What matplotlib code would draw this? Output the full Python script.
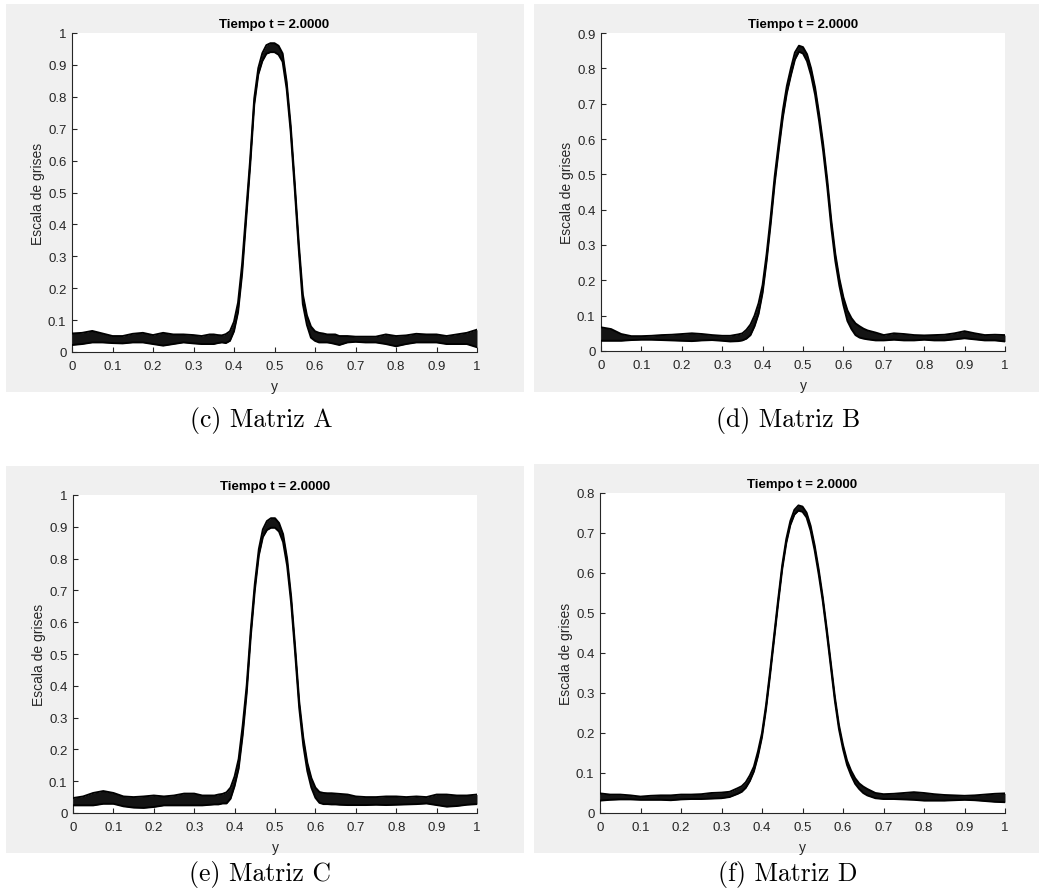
import matplotlib
matplotlib.use("Agg")
import matplotlib.pyplot as plt
from matplotlib.patches import Rectangle
import numpy as np

# ---------------- data ----------------
x = [0, 0.025, 0.05, 0.075, 0.1, 0.125, 0.15, 0.175, 0.2, 0.225, 0.25, 0.275, 0.3,
     0.32, 0.34, 0.35, 0.36, 0.37,
     0.38, 0.39, 0.40, 0.41, 0.42, 0.43, 0.44, 0.45, 0.46, 0.47, 0.48, 0.49, 0.50,
     0.51, 0.52, 0.53, 0.54, 0.55, 0.56, 0.57, 0.58, 0.59, 0.60, 0.61, 0.62,
     0.63, 0.64, 0.65, 0.66, 0.68, 0.70, 0.725, 0.75, 0.775, 0.8, 0.825, 0.85,
     0.875, 0.9, 0.925, 0.95, 0.975, 1.0]

# Matriz A
a_lo = [0.022, 0.025, 0.030, 0.030, 0.028, 0.027, 0.030, 0.030, 0.025, 0.020, 0.025, 0.030, 0.027,
        0.025, 0.025, 0.025, 0.028, 0.030,
        0.028, 0.035, 0.065, 0.125, 0.245, 0.415, 0.585, 0.775, 0.870, 0.912, 0.935, 0.940, 0.940,
        0.932, 0.910, 0.825, 0.690, 0.510, 0.320, 0.150, 0.085, 0.045, 0.035, 0.030, 0.030,
        0.030, 0.028, 0.025, 0.022, 0.030, 0.032, 0.030, 0.030, 0.025, 0.018, 0.025, 0.030,
        0.030, 0.030, 0.025, 0.025, 0.025, 0.015]
a_hi = [0.058, 0.060, 0.066, 0.058, 0.050, 0.050, 0.057, 0.060, 0.053, 0.060, 0.055, 0.055, 0.053,
        0.050, 0.055, 0.055, 0.053, 0.052,
        0.056, 0.065, 0.095, 0.155, 0.275, 0.440, 0.605, 0.795, 0.890, 0.937, 0.962, 0.968, 0.968,
        0.960, 0.936, 0.847, 0.710, 0.530, 0.340, 0.180, 0.115, 0.080, 0.065, 0.060, 0.058,
        0.055, 0.055, 0.055, 0.050, 0.050, 0.048, 0.048, 0.048, 0.055, 0.050, 0.052, 0.057,
        0.055, 0.055, 0.050, 0.055, 0.060, 0.070]

# Matriz B
b_lo = [0.029, 0.029, 0.029, 0.031, 0.032, 0.032, 0.031, 0.030, 0.029, 0.028, 0.030, 0.031, 0.029,
        0.027, 0.028, 0.030, 0.035, 0.045,
        0.070, 0.105, 0.165, 0.255, 0.360, 0.475, 0.570, 0.660, 0.730, 0.780, 0.825, 0.847, 0.842,
        0.820, 0.780, 0.725, 0.650, 0.565, 0.465, 0.350, 0.255, 0.185, 0.130, 0.085, 0.062,
        0.045, 0.038, 0.035, 0.033, 0.030, 0.030, 0.032, 0.030, 0.030, 0.032, 0.030, 0.030,
        0.033, 0.036, 0.033, 0.030, 0.030, 0.027]
b_hi = [0.067, 0.062, 0.048, 0.042, 0.042, 0.043, 0.045, 0.046, 0.048, 0.050, 0.048, 0.045, 0.043,
        0.043, 0.047, 0.050, 0.060, 0.075,
        0.100, 0.135, 0.187, 0.275, 0.380, 0.495, 0.590, 0.680, 0.750, 0.800, 0.845, 0.864, 0.860,
        0.840, 0.800, 0.745, 0.670, 0.585, 0.485, 0.370, 0.275, 0.205, 0.152, 0.115, 0.093,
        0.078, 0.070, 0.063, 0.058, 0.052, 0.045, 0.050, 0.048, 0.045, 0.044, 0.045, 0.046,
        0.050, 0.056, 0.050, 0.045, 0.046, 0.045]

# Matriz C
c_lo = [0.024, 0.024, 0.024, 0.029, 0.029, 0.021, 0.017, 0.016, 0.019, 0.024, 0.024, 0.024, 0.024,
        0.024, 0.026, 0.027, 0.027, 0.030,
        0.030, 0.045, 0.085, 0.140, 0.245, 0.378, 0.555, 0.700, 0.810, 0.868, 0.890, 0.897, 0.897,
        0.885, 0.852, 0.778, 0.660, 0.500, 0.330, 0.213, 0.132, 0.080, 0.048, 0.032, 0.028,
        0.028, 0.027, 0.027, 0.026, 0.025, 0.025, 0.025, 0.026, 0.025, 0.026, 0.027, 0.028,
        0.030, 0.025, 0.020, 0.022, 0.026, 0.028]
c_hi = [0.047, 0.052, 0.063, 0.069, 0.063, 0.052, 0.050, 0.052, 0.055, 0.052, 0.055, 0.061, 0.061,
        0.055, 0.055, 0.055, 0.058, 0.060,
        0.065, 0.080, 0.115, 0.170, 0.275, 0.402, 0.575, 0.720, 0.830, 0.892, 0.918, 0.927, 0.927,
        0.912, 0.877, 0.800, 0.680, 0.520, 0.350, 0.237, 0.158, 0.110, 0.080, 0.066, 0.063,
        0.062, 0.062, 0.061, 0.060, 0.058, 0.052, 0.050, 0.050, 0.052, 0.052, 0.050, 0.052,
        0.050, 0.058, 0.058, 0.055, 0.055, 0.058]

# Matriz D
d_lo = [0.031, 0.033, 0.034, 0.034, 0.033, 0.033, 0.033, 0.032, 0.034, 0.035, 0.035, 0.036, 0.037,
        0.040, 0.048, 0.053, 0.063, 0.080,
        0.104, 0.142, 0.190, 0.260, 0.345, 0.435, 0.525, 0.610, 0.675, 0.720, 0.746, 0.756, 0.753,
        0.739, 0.706, 0.657, 0.597, 0.530, 0.450, 0.365, 0.280, 0.210, 0.160, 0.120, 0.094,
        0.073, 0.060, 0.050, 0.044, 0.037, 0.035, 0.035, 0.034, 0.033, 0.031, 0.031, 0.031,
        0.032, 0.033, 0.032, 0.030, 0.028, 0.027]
d_hi = [0.049, 0.046, 0.046, 0.044, 0.041, 0.043, 0.044, 0.044, 0.046, 0.046, 0.047, 0.050, 0.051,
        0.053, 0.062, 0.067, 0.077, 0.094,
        0.116, 0.154, 0.200, 0.270, 0.355, 0.445, 0.535, 0.620, 0.685, 0.730, 0.758, 0.769, 0.766,
        0.751, 0.718, 0.669, 0.609, 0.540, 0.460, 0.375, 0.290, 0.220, 0.170, 0.131, 0.106,
        0.087, 0.074, 0.066, 0.060, 0.050, 0.047, 0.048, 0.050, 0.052, 0.050, 0.047, 0.045,
        0.044, 0.043, 0.044, 0.046, 0.048, 0.049]

x_ticks = [0, 0.1, 0.2, 0.3, 0.4, 0.5, 0.6, 0.7, 0.8, 0.9, 1]
x_ticklabels = ["0", "0.1", "0.2", "0.3", "0.4", "0.5", "0.6", "0.7", "0.8", "0.9", "1"]
title_text = "Tiempo t = 2.0000"
xlabel_text = "y"
ylabel_text = "Escala de grises"
captions = ["(c) Matriz A", "(d) Matriz B", "(e) Matriz C", "(f) Matriz D"]
ymax = [1.0, 0.9, 1.0, 0.8]
lows = [a_lo, b_lo, c_lo, d_lo]
highs = [a_hi, b_hi, c_hi, d_hi]

# ---------------- layout (pixels) ----------------
W, H = 1039, 895
fig = plt.figure(figsize=(W / 100, H / 100), dpi=100)
fig.patch.set_facecolor("white")

def fx(px):
    return px / W

def fy(py):
    return 1 - py / H

# panel backgrounds: (left, top, right, bottom)
bgs = [(6, 5, 524, 393), (534, 5, 1039, 393), (6, 467, 524, 854), (534, 465, 1039, 854)]
# axes boxes: (left, top, right, bottom)
boxes = [(72, 34, 477, 353), (601, 34, 1005, 352), (73, 496, 477, 814), (600, 494, 1005, 814)]
cap_pos = [(261, 421), (788, 421), (260, 875), (788, 875)]

for (l, t, r, b) in bgs:
    rect = Rectangle((fx(l), fy(b)), fx(r - l), (b - t) / H,
                     transform=fig.transFigure, facecolor="#f0f0f0",
                     edgecolor="none", zorder=-10)
    fig.add_artist(rect)

tick_color = "#262626"
for i in range(4):
    l, t, r, b = boxes[i]
    ax = fig.add_axes([fx(l), fy(b), fx(r - l), (b - t) / H])
    ax.set_zorder(5)
    ax.set_facecolor("white")
    xs = np.array(x)
    lo = np.array(lows[i])
    hi = np.array(highs[i])
    ax.fill_between(xs, lo, hi, color="#141414", linewidth=0, zorder=2)
    ax.plot(xs, lo, color="black", lw=1.4, zorder=3, solid_joinstyle="round")
    ax.plot(xs, hi, color="black", lw=1.4, zorder=3, solid_joinstyle="round")
    ax.set_xlim(0, 1)
    ax.set_ylim(0, ymax[i])
    ax.set_xticks(x_ticks)
    ax.set_xticklabels(x_ticklabels)
    nt = int(round(ymax[i] * 10)) + 1
    yt = [k / 10 for k in range(nt)]
    ylabels = ["0"] + ["%.1f" % v for v in yt[1:]]
    ylabels = ["1" if s == "1.0" else s for s in ylabels]
    ax.set_yticks(yt)
    ax.set_yticklabels(ylabels)
    for s in ["top", "right"]:
        ax.spines[s].set_visible(False)
    for s in ["left", "bottom"]:
        ax.spines[s].set_color(tick_color)
        ax.spines[s].set_linewidth(0.8)
    ax.tick_params(direction="in", length=3.5, width=0.8, colors=tick_color,
                   labelsize=9.5)
    ax.tick_params(axis="x", pad=6)
    ax.tick_params(axis="y", pad=4)
    for lab in ax.get_xticklabels() + ax.get_yticklabels():
        lab.set_family("Liberation Sans")
    ax.set_title(title_text, fontsize=9.5, fontweight="bold", family="Liberation Sans",
                 color="black", pad=4)
    ax.set_xlabel(xlabel_text, fontsize=10, family="Liberation Sans", color=tick_color,
                  labelpad=5)
    ax.set_ylabel(ylabel_text, fontsize=10, family="Liberation Sans", color=tick_color,
                  labelpad=2)
    cx, cy = cap_pos[i]
    fig.text(fx(cx), fy(cy), captions[i], ha="center", va="center",
             fontsize=18.5, family="cmr10")

fig.savefig("out.png", dpi=100, facecolor="white")
